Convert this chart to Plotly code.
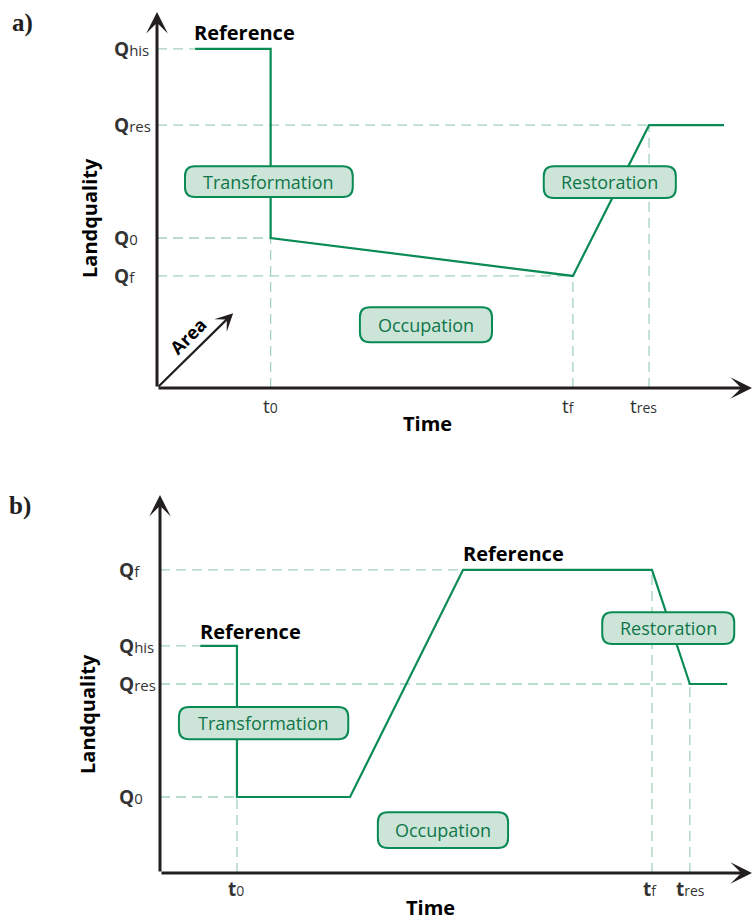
import plotly.graph_objects as go

W, H = 755, 920

# ---------------- data (conceptual units, 0..100) ----------------
# Panel a
a_ref_t = [6.4, 19.1, 19.1, 69.9, 82.7, 95.3]
a_ref_q = [90.2, 90.2, 39.9, 29.8, 69.9, 69.9]
a_q_levels = [90.2, 69.9, 39.9, 29.8]
a_q_subs = ["his", "res", "0", "f"]
a_q_guide_end = [6.4, 82.7, 19.1, 69.9]
a_t_marks = [19.1, 69.9, 82.7]
a_t_subs = ["0", "f", "res"]
a_t_guide_top = [39.9, 29.8, 69.9]
a_area_tip = (12.8, 19.9)

# Panel b
b_ref_t = [6.8, 13.0, 13.0, 32.1, 51.2, 83.1, 89.5, 95.8]
b_ref_q = [60.1, 60.1, 20.1, 20.1, 80.2, 80.2, 50.0, 50.0]
b_q_levels = [80.2, 60.1, 50.0, 20.1]
b_q_subs = ["f", "his", "res", "0"]
b_q_guide_end = [51.2, 6.8, 89.5, 13.0]
b_t_marks = [13.0, 83.1, 89.5]
b_t_subs = ["0", "f", "res"]
b_t_guide_top = [20.1, 80.2, 50.0]

# ---------------- styles ----------------
GREEN = "#0a8a55"
DASH = "#a3d3bb"
BOXFILL = "#cde5d8"
BOXTEXT = "#0f7548"
AXIS = "#231f20"
LBL = "#333333"
FONT = "Open Sans"

panels = {
    "a": dict(ox=157, oy=388, sx=5.95, sy=3.76, xa="x", ya="y"),
    "b": dict(ox=160, oy=873, sx=5.92, sy=3.78, xa="x2", ya="y2"),
}
XR = [-2, 100]
YR = [-2, 101]


def dom(p):
    xd = [(p["ox"] + XR[0] * p["sx"]) / W, (p["ox"] + XR[1] * p["sx"]) / W]
    yd = [1 - (p["oy"] - YR[0] * p["sy"]) / H, 1 - (p["oy"] - YR[1] * p["sy"]) / H]
    return xd, yd


fig = go.Figure()
annotations = []
shapes = []


def px(xp, yp):
    return xp / W, 1 - yp / H


def add_text(text, xp, yp, size=17, color="black", bold=False, angle=0, family=FONT,
             xanchor="center"):
    x, y = px(xp, yp)
    annotations.append(dict(
        text=f"<b>{text}</b>" if bold else text, x=x, y=y, xref="paper", yref="paper",
        showarrow=False, xanchor=xanchor, yanchor="middle", textangle=angle,
        font=dict(size=size, color=color, family=family)))


def rbox(p, x0, x1, y0, y1, label, size=18):
    rx, ry = 10 / p["sx"], 10 / p["sy"]
    path = (f"M {x0+rx},{y0} L {x1-rx},{y0} Q {x1},{y0} {x1},{y0+ry} "
            f"L {x1},{y1-ry} Q {x1},{y1} {x1-rx},{y1} L {x0+rx},{y1} "
            f"Q {x0},{y1} {x0},{y1-ry} L {x0},{y0+ry} Q {x0},{y0} {x0+rx},{y0} Z")
    shapes.append(dict(type="path", path=path, xref=p["xa"], yref=p["ya"],
                       fillcolor=BOXFILL, line=dict(color=GREEN, width=2), layer="above"))
    annotations.append(dict(text=label, x=(x0 + x1) / 2, y=(y0 + y1) / 2,
                            xref=p["xa"], yref=p["ya"], showarrow=False,
                            font=dict(size=size, color=BOXTEXT, family=FONT)))


def panel(p, ref_t, ref_q, q_levels, q_subs, q_end, t_marks, t_subs, t_top,
          q_label_x, t_label_y, t_bold, t_shift):
    xa, ya = p["xa"], p["ya"]
    for q, xe in zip(q_levels, q_end):
        fig.add_trace(go.Scatter(x=[0, xe], y=[q, q], mode="lines", xaxis=xa, yaxis=ya,
                                 line=dict(color=DASH, width=1.3, dash="10px,6px"),
                                 hoverinfo="skip", showlegend=False))
    for t, yt in zip(t_marks, t_top):
        fig.add_trace(go.Scatter(x=[t, t], y=[0, yt], mode="lines", xaxis=xa, yaxis=ya,
                                 line=dict(color=DASH, width=1.3, dash="10px,6px"),
                                 hoverinfo="skip", showlegend=False))
    fig.add_trace(go.Scatter(x=ref_t, y=ref_q, mode="lines", xaxis=xa, yaxis=ya,
                             line=dict(color=GREEN, width=2.2), hoverinfo="skip",
                             showlegend=False))
    for (xt, yt) in [(0, 100), (100, 0)]:
        annotations.append(dict(x=xt, y=yt, ax=0, ay=0, xref=xa, yref=ya, axref=xa, ayref=ya,
                                text="", showarrow=True, arrowhead=3, arrowsize=1.2,
                                arrowwidth=3, arrowcolor=AXIS))
    for q, s in zip(q_levels, q_subs):
        annotations.append(dict(
            text=f"<b>Q</b><span style='font-size:15px'>{s}</span>",
            x=q_label_x / W, y=q, xref="paper", yref=ya, xanchor="left", yanchor="middle",
            showarrow=False, font=dict(size=19, color=LBL, family=FONT)))
    for t, s, sh in zip(t_marks, t_subs, t_shift):
        tt = "<b>t</b>" if t_bold else "t"
        annotations.append(dict(
            text=f"{tt}<span style='font-size:14px'>{s}</span>",
            x=t, y=1 - t_label_y / H, xref=xa, yref="paper", xanchor="center",
            yanchor="middle", xshift=sh, showarrow=False,
            font=dict(size=19, color=LBL, family=FONT)))


pa, pb = panels["a"], panels["b"]
panel(pa, a_ref_t, a_ref_q, a_q_levels, a_q_subs, a_q_guide_end, a_t_marks, a_t_subs,
      a_t_guide_top, 112, 406, False, [0, -4, -6])
panel(pb, b_ref_t, b_ref_q, b_q_levels, b_q_subs, b_q_guide_end, b_t_marks, b_t_subs,
      b_t_guide_top, 117, 889, True, [-1, -2, 1])

annotations.append(dict(x=a_area_tip[0], y=a_area_tip[1], ax=0, ay=0, xref="x", yref="y",
                        axref="x", ayref="y", text="", showarrow=True, arrowhead=3,
                        arrowsize=1.35, arrowwidth=2.2, arrowcolor=AXIS))
add_text("Area", 188, 336, size=18, bold=True, angle=-45)

rbox(pa, 4.7, 32.9, 50.8, 59.0, "Transformation")
rbox(pa, 65.0, 87.2, 50.5, 59.0, "Restoration")
rbox(pa, 34.1, 56.3, 12.2, 21.5, "Occupation")
rbox(pb, 3.2, 31.8, 35.4, 43.9, "Transformation")
rbox(pb, 74.7, 97.0, 60.6, 69.0, "Restoration")
rbox(pb, 36.8, 58.8, 6.6, 16.1, "Occupation")

add_text("Reference", 192, 33, size=20, bold=True, xanchor="left")
add_text("Reference", 198, 631, size=20, bold=True, xanchor="left")
add_text("Reference", 461, 553, size=20, bold=True, xanchor="left")
add_text("Landquality", 90, 218, size=20, bold=True, angle=-90)
add_text("Landquality", 87, 714, size=20, bold=True, angle=-90)
add_text("Time", 427, 423, size=20, bold=True)
add_text("Time", 430, 907, size=20, bold=True)
add_text("a)", 22, 23, size=25, bold=True, family="Liberation Serif", color="#231f20")
add_text("b)", 20, 506, size=25, bold=True, family="Liberation Serif", color="#231f20")

axcfg = dict(visible=False, showgrid=False, zeroline=False, fixedrange=True)
xda, yda = dom(pa)
xdb, ydb = dom(pb)
fig.update_layout(
    width=W, height=H, margin=dict(l=0, r=0, t=0, b=0),
    paper_bgcolor="white", plot_bgcolor="rgba(0,0,0,0)",
    xaxis=dict(domain=xda, range=XR, anchor="y", **axcfg),
    yaxis=dict(domain=yda, range=YR, anchor="x", **axcfg),
    xaxis2=dict(domain=xdb, range=XR, anchor="y2", **axcfg),
    yaxis2=dict(domain=ydb, range=YR, anchor="x2", **axcfg),
    annotations=annotations, shapes=shapes, showlegend=False,
)
fig.write_html("out.html", config={"displayModeBar": False},
               post_script="document.body.style.margin='0px';document.body.style.overflow='hidden';")
